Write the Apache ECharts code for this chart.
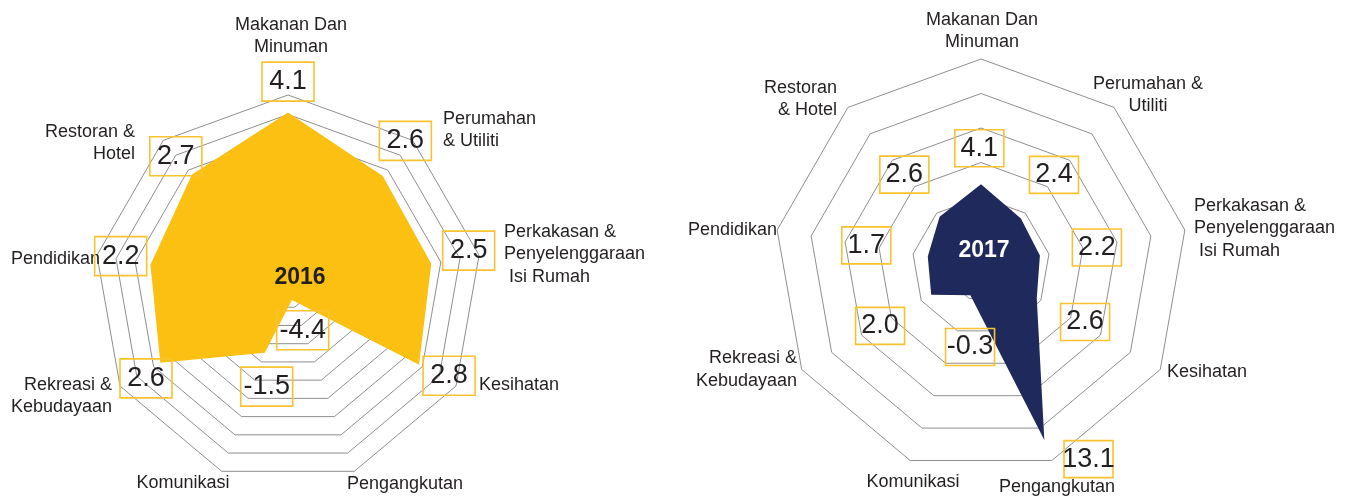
<!DOCTYPE html>
<html>
<head>
<meta charset="utf-8">
<title>Radar 2016 / 2017</title>
<script src="https://cdn.jsdelivr.net/npm/echarts@6/dist/echarts.min.js"></script>
<style>
  html, body { margin: 0; padding: 0; background: #fff; }
  #chart { width: 1354px; height: 497px; }
</style>
</head>
<body>
<div id="chart"></div>
<script>
// kumpulan, ikut arah jam bermula dari atas
const categories = [
  "Makanan Dan Minuman",
  "Perumahan & Utiliti",
  "Perkakasan & Penyelenggaraan Isi Rumah",
  "Kesihatan",
  "Pengangkutan",
  "Komunikasi",
  "Rekreasi & Kebudayaan",
  "Pendidikan",
  "Restoran & Hotel"
];
const values2016 = [4.1, 2.6, 2.5, 2.8, -4.4, -1.5, 2.6, 2.2, 2.7];
const values2017 = [4.1, 2.4, 2.2, 2.6, 13.1, -0.3, 2.0, 1.7, 2.6];
// skala paksi (min, max, bilangan gelang)
const range2016 = [-5, 5, 10];
const range2017 = [-3, 15, 6];
const years = ["2016", "2017"];

// teks nama paksi seperti dalam gambar (pecah baris)
const names2016 = [
  "Makanan Dan\nMinuman", "Perumahan\n& Utiliti", "Perkakasan &\nPenyelenggaraan\n Isi Rumah",
  "Kesihatan", "Pengangkutan", "Komunikasi", "Rekreasi &\nKebudayaan", "Pendidikan", "Restoran &\nHotel"
];
const names2017 = [
  "Makanan Dan\nMinuman", "Perumahan &\nUtiliti", "Perkakasan &\nPenyelenggaraan\n Isi Rumah",
  "Kesihatan", "Pengangkutan", "Komunikasi", "Rekreasi &\nKebudayaan", "Pendidikan", "Restoran\n& Hotel"
];

// susun atur
const YELLOW = "#fcc013";
const NAVY = "#1f295c";
const BOX = "#f9c22e";
const INK = "#231f20";
const left = { center: [288, 289], radius: 194 };
const right = { center: [981, 266], radius: 207 };
// kotak nilai: jarak (nisbah jejari) dan anjakan sudut (darjah)
const boxR2016 = [1.069, 0.974, 0.952, 0.943, 0.226, 0.515, 0.865, 0.879, 0.896];
const boxA2016 = [0, 1.6, 2, 1.7, -0.4, 7.7, 2.2, -1.1, 0.2];
const boxR2017 = [0.569, 0.564, 0.567, 0.571, 1.068, 0.395, 0.567, 0.563, 0.576];
const boxA2017 = [0.8, 1.3, -0.9, 1.7, 9.1, 12.3, 0.7, -0.2, 0];
// kedudukan nama [x, y, align]
const namePos2016 = [
  [291, 36, "center"], [443, 130, "left"], [504, 254.5, "left"], [479, 385, "left"],
  [405, 484, "center"], [183, 483, "center"], [112, 396, "right"], [100, 259, "right"], [135, 143, "right"]
];
const namePos2017 = [
  [982, 31, "center"], [1148, 95, "center"], [1194, 228.5, "left"], [1167, 372, "left"],
  [1057, 487, "center"], [913, 482, "center"], [797, 369.5, "right"], [777, 230, "right"], [837, 99, "right"]
];

// echarts letak indikator lawan arah jam, jadi terbalikkan selepas yang pertama
const ccw = arr => [arr[0]].concat(arr.slice(1).reverse());

function radarOf(layout, range) {
  return {
    center: layout.center,
    radius: layout.radius,
    startAngle: 90,
    shape: "polygon",
    splitNumber: range[2],
    indicator: ccw(categories).map(n => ({ name: n, min: range[0], max: range[1] })),
    axisName: { show: false },
    axisLine: { show: false },
    axisTick: { show: false },
    axisLabel: { show: false },
    splitArea: { show: false },
    splitLine: { lineStyle: { color: "#8f8f8f", width: 1 } }
  };
}

function polar(c, r, deg) {
  const a = deg * Math.PI / 180;
  return [c[0] + r * Math.cos(a), c[1] - r * Math.sin(a)];
}

function boxes(layout, values, rs, das, w, h) {
  return values.map((v, i) => {
    const p = polar(layout.center, rs[i] * layout.radius, 90 - 40 * i + das[i]);
    return {
      type: "text",
      z: 100,
      style: {
        text: v.toFixed(1),
        x: p[0],
        y: p[1],
        align: "center",
        verticalAlign: "middle",
        font: "27px 'Liberation Sans Narrow', 'Liberation Sans', sans-serif",
        fill: INK,
        width: w,
        height: h,
        lineHeight: h,
        padding: [4, 5],
        borderColor: BOX,
        borderWidth: 1.6
      }
    };
  });
}

function names(texts, pos) {
  return texts.map((t, i) => ({
    type: "text",
    z: 100,
    style: {
      text: t,
      x: pos[i][0],
      y: pos[i][1],
      align: pos[i][2],
      verticalAlign: "middle",
      lineHeight: 22.5,
      font: "18px 'Liberation Sans', Arial, sans-serif",
      fill: INK
    }
  }));
}

const chart = echarts.init(document.getElementById("chart"), null, { renderer: "canvas" });

const option = {
  animation: false,
  backgroundColor: "#fff",
  radar: [radarOf(left, range2016), radarOf(right, range2017)],
  series: [
    {
      type: "radar",
      radarIndex: 0,
      symbol: "none",
      lineStyle: { width: 0 },
      areaStyle: { color: YELLOW, opacity: 1 },
      data: [{ name: years[0], value: ccw(values2016) }]
    },
    {
      type: "radar",
      radarIndex: 1,
      symbol: "none",
      lineStyle: { width: 0 },
      areaStyle: { color: NAVY, opacity: 1 },
      data: [{ name: years[1], value: ccw(values2017) }]
    }
  ],
  graphic: [].concat(
    names(names2016, namePos2016),
    names(names2017, namePos2017),
    boxes(left, values2016, boxR2016, boxA2016, 42, 31),
    boxes(right, values2017, boxR2017, boxA2017, 39, 29),
    [
      { type: "text", z: 100, style: { text: years[0], x: 300, y: 278, align: "center", verticalAlign: "middle",
        font: "bold 23px 'Liberation Sans', Arial, sans-serif", fill: INK } },
      { type: "text", z: 100, style: { text: years[1], x: 984, y: 251, align: "center", verticalAlign: "middle",
        font: "bold 23px 'Liberation Sans', Arial, sans-serif", fill: "#fff" } }
    ]
  )
};

chart.setOption(option);
window.onresize = () => chart.resize();
</script>
</body>
</html>
